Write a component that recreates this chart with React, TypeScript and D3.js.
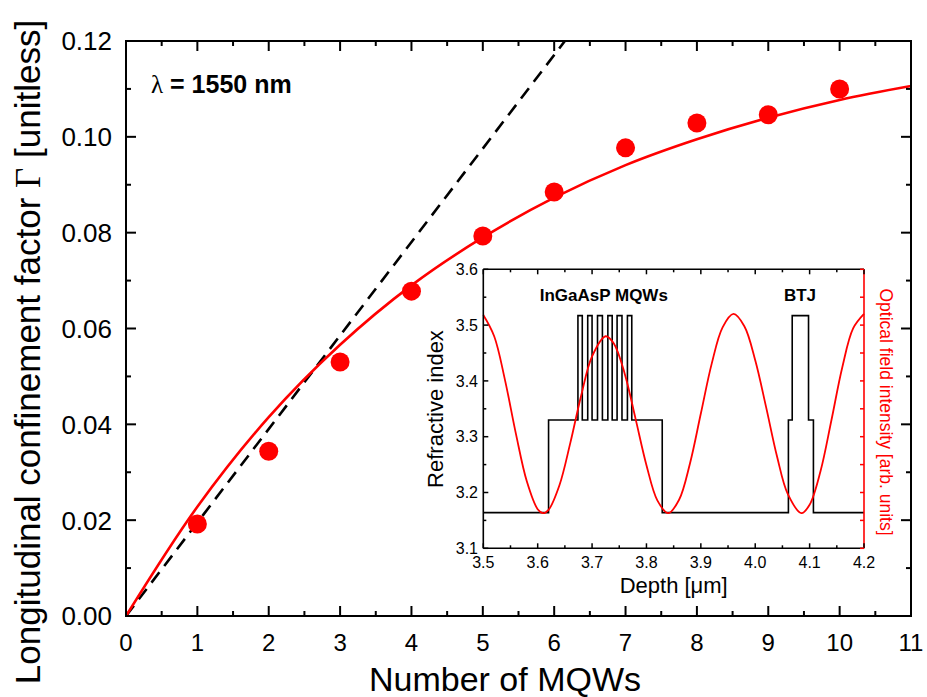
import React from 'react';
import * as d3 from 'd3';

// ---------- Main chart data ----------
const xTickValues = [0, 1, 2, 3, 4, 5, 6, 7, 8, 9, 10, 11];
const yTickValues = [0, 0.02, 0.04, 0.06, 0.08, 0.1, 0.12];
const yTickLabels = ['0.00', '0.02', '0.04', '0.06', '0.08', '0.10', '0.12'];

const mqwCount = [1, 2, 3, 4, 5, 6, 7, 8, 9, 10];
const gammaMeasured = [0.0192, 0.0344, 0.053, 0.0678, 0.0793, 0.0885, 0.0977, 0.1029, 0.1046, 0.11];

const fitN = [0, 1, 2, 3, 4, 5, 6, 7, 8, 9, 10, 11];
const fitGamma = [0, 0.0228, 0.0415, 0.0566, 0.069, 0.079, 0.0873, 0.0941, 0.0995, 0.104, 0.1077, 0.1106];

const linearN = [0, 6.15];
const linearGamma = [0, 0.12];

// ---------- Inset data ----------
const insetXTicks = [3.5, 3.6, 3.7, 3.8, 3.9, 4.0, 4.1, 4.2];
const insetXLabels = ['3.5', '3.6', '3.7', '3.8', '3.9', '4.0', '4.1', '4.2'];
const insetYTicks = [3.1, 3.2, 3.3, 3.4, 3.5, 3.6];
const insetYLabels = ['3.1', '3.2', '3.3', '3.4', '3.5', '3.6'];

const profileEdges = [3.5, 3.62, 3.674, 3.682, 3.692, 3.7, 3.71, 3.719, 3.729, 3.737, 3.746, 3.755, 3.765, 3.773, 3.829, 4.061, 4.068, 4.098, 4.107, 4.2];
const profileIndex = [3.164, 3.33, 3.517, 3.33, 3.517, 3.33, 3.517, 3.33, 3.517, 3.33, 3.517, 3.33, 3.517, 3.33, 3.164, 3.33, 3.517, 3.33, 3.164];

const fieldDepth = [3.5, 3.52, 3.54, 3.56, 3.58, 3.6, 3.61, 3.62, 3.64, 3.66, 3.68, 3.7, 3.725, 3.74, 3.76, 3.78, 3.8, 3.82, 3.84, 3.86, 3.88, 3.9, 3.92, 3.94, 3.96, 3.98, 4.0, 4.02, 4.04, 4.06, 4.085, 4.1, 4.12, 4.14, 4.16, 4.18, 4.2];
const fieldLevel = [3.518, 3.48, 3.401, 3.305, 3.22, 3.17, 3.163, 3.169, 3.213, 3.289, 3.374, 3.444, 3.48, 3.467, 3.413, 3.332, 3.249, 3.186, 3.163, 3.187, 3.252, 3.3415, 3.431, 3.496, 3.52, 3.498, 3.437, 3.353, 3.265, 3.197, 3.163, 3.178, 3.238, 3.329, 3.424, 3.494, 3.52];
const fieldAxisTicks = [0, 1, 2, 3, 4, 5, 6, 7, 8, 9, 10];

const FONT = "'Liberation Sans', Arial, Helvetica, sans-serif";
const RED = '#ff0000';

export default function App() {
  const W = 927, H = 697;
  const L = 126, R = 911, T = 41, B = 616;
  const x = d3.scaleLinear().domain([0, 11]).range([L, R]);
  const y = d3.scaleLinear().domain([0, 0.12]).range([B, T]);

  const xMinor = x.ticks(22).filter(v => Math.abs(v - Math.round(v)) > 1e-6);
  const yMinor = y.ticks(12).filter(v => !yTickValues.some(t => Math.abs(t - v) < 1e-6));

  const fitLine = d3.line<number>().x((_, i) => x(fitN[i])).y(d => y(d)).curve(d3.curveCatmullRom)(fitGamma) || '';
  const dashLine = d3.line<number>().x((_, i) => x(linearN[i])).y(d => y(d))(linearGamma) || '';

  // inset
  const iL = 483.3, iR = 864, iT = 269.3, iB = 548.3;
  const ix = d3.scaleLinear().domain([3.5, 4.2]).range([iL, iR]);
  const iy = d3.scaleLinear().domain([3.1, 3.6]).range([iB, iT]);
  const fy = d3.scaleLinear().domain([0, 10]).range([iB, iT]);
  const ixMinor = d3.range(3.55, 4.2, 0.1);
  const iyMinor = d3.range(3.15, 3.6, 0.1);

  const profPts: [number, number][] = profileIndex.map((v, i) => [profileEdges[i], v]);
  profPts.push([profileEdges[profileEdges.length - 1], profileIndex[profileIndex.length - 1]]);
  const profPath = d3.line<[number, number]>().x(d => ix(d[0])).y(d => iy(d[1])).curve(d3.curveStepAfter)(profPts) || '';
  const fieldPath = d3.line<number>().x((_, i) => ix(fieldDepth[i])).y(d => iy(d)).curve(d3.curveCatmullRom)(fieldLevel) || '';

  return (
    <svg width={W} height={H} style={{ position: 'absolute', left: 0, top: 0, display: 'block', background: '#fff' }} fontFamily={FONT}>
      <defs>
        <clipPath id="mainClip"><rect x={L} y={T} width={R - L} height={B - T} /></clipPath>
      </defs>
      <rect x={0} y={0} width={W} height={H} fill="#fff" />

      {/* curves */}
      <g clipPath="url(#mainClip)">
        <path d={dashLine} fill="none" stroke="#000" strokeWidth={2.6} strokeDasharray="13,8" />
        <path d={fitLine} fill="none" stroke={RED} strokeWidth={2.6} />
      </g>
      {mqwCount.map((n, i) => (
        <circle key={n} cx={x(n)} cy={y(gammaMeasured[i])} r={9.5} fill={RED} />
      ))}

      {/* main axes frame */}
      <rect x={L} y={T} width={R - L} height={B - T} fill="none" stroke="#000" strokeWidth={2} />
      {xTickValues.map(v => (
        <g key={'xt' + v}>
          <line x1={x(v)} x2={x(v)} y1={B} y2={B - 10} stroke="#000" strokeWidth={2} />
          <line x1={x(v)} x2={x(v)} y1={T} y2={T + 10} stroke="#000" strokeWidth={2} />
          <text x={x(v)} y={651} fontSize={24} textAnchor="middle">{v}</text>
        </g>
      ))}
      {xMinor.map(v => (
        <g key={'xm' + v}>
          <line x1={x(v)} x2={x(v)} y1={B} y2={B - 5} stroke="#000" strokeWidth={2} />
          <line x1={x(v)} x2={x(v)} y1={T} y2={T + 5} stroke="#000" strokeWidth={2} />
        </g>
      ))}
      {yTickValues.map((v, i) => (
        <g key={'yt' + v}>
          <line x1={L} x2={L + 10} y1={y(v)} y2={y(v)} stroke="#000" strokeWidth={2} />
          <line x1={R} x2={R - 10} y1={y(v)} y2={y(v)} stroke="#000" strokeWidth={2} />
          <text x={112} y={y(v)} dy="0.36em" fontSize={26} textAnchor="end">{yTickLabels[i]}</text>
        </g>
      ))}
      {yMinor.map(v => (
        <g key={'ym' + v}>
          <line x1={L} x2={L + 5} y1={y(v)} y2={y(v)} stroke="#000" strokeWidth={2} />
          <line x1={R} x2={R - 5} y1={y(v)} y2={y(v)} stroke="#000" strokeWidth={2} />
        </g>
      ))}

      {/* axis titles */}
      <text x={505} y={691} fontSize={34} textAnchor="middle">Number of MQWs</text>
      <text transform="translate(40,352) rotate(-90)" fontSize={35} textAnchor="middle">
        Longitudinal confinement factor <tspan fontFamily="'Liberation Serif', 'Times New Roman', serif">Γ</tspan> [unitless]
      </text>
      <text x={151} y={93} fontSize={25}>
        <tspan fontFamily="'Liberation Serif', 'Times New Roman', serif">λ</tspan>
        <tspan fontWeight="bold"> = 1550 nm</tspan>
      </text>

      {/* inset */}
      <rect x={iL} y={iT} width={iR - iL} height={iB - iT} fill="#fff" />
      <path d={profPath} fill="none" stroke="#000" strokeWidth={1.6} />
      <path d={fieldPath} fill="none" stroke={RED} strokeWidth={1.8} />
      <line x1={iL} x2={iR} y1={iB} y2={iB} stroke="#000" strokeWidth={1.6} />
      <line x1={iL} x2={iR} y1={iT} y2={iT} stroke="#000" strokeWidth={1.6} />
      <line x1={iL} x2={iL} y1={iT} y2={iB} stroke="#000" strokeWidth={1.6} />
      <line x1={iR} x2={iR} y1={iT} y2={iB} stroke={RED} strokeWidth={1.6} />
      {insetXTicks.map((v, i) => (
        <g key={'ixt' + v}>
          <line x1={ix(v)} x2={ix(v)} y1={iB} y2={iB - 5} stroke="#000" strokeWidth={1.5} />
          <line x1={ix(v)} x2={ix(v)} y1={iT} y2={iT + 5} stroke="#000" strokeWidth={1.5} />
          <text x={ix(v)} y={568} fontSize={16} textAnchor="middle">{insetXLabels[i]}</text>
        </g>
      ))}
      {ixMinor.map(v => (
        <g key={'ixm' + v}>
          <line x1={ix(v)} x2={ix(v)} y1={iB} y2={iB - 3} stroke="#000" strokeWidth={1.5} />
          <line x1={ix(v)} x2={ix(v)} y1={iT} y2={iT + 3} stroke="#000" strokeWidth={1.5} />
        </g>
      ))}
      {insetYTicks.map((v, i) => (
        <g key={'iyt' + v}>
          <line x1={iL} x2={iL + 5} y1={iy(v)} y2={iy(v)} stroke="#000" strokeWidth={1.5} />
          <text x={478} y={iy(v)} dy="0.36em" fontSize={16} textAnchor="end">{insetYLabels[i]}</text>
        </g>
      ))}
      {iyMinor.map(v => (
        <line key={'iym' + v} x1={iL} x2={iL + 3} y1={iy(v)} y2={iy(v)} stroke="#000" strokeWidth={1.5} />
      ))}
      {fieldAxisTicks.map(v => (
        <line key={'ft' + v} x1={iR} x2={iR - 4} y1={fy(v)} y2={fy(v)} stroke={RED} strokeWidth={1.5} />
      ))}
      <text x={603.8} y={301} fontSize={17} fontWeight="bold" textAnchor="middle">InGaAsP MQWs</text>
      <text x={800} y={301} fontSize={17} fontWeight="bold" textAnchor="middle">BTJ</text>
      <text x={673.7} y={593} fontSize={22} textAnchor="middle">Depth [μm]</text>
      <text transform="translate(443,409) rotate(-90)" fontSize={22} textAnchor="middle">Refractive index</text>
      <text transform="translate(880,412) rotate(90)" fontSize={17.5} textAnchor="middle" fill={RED}>Optical field intensity [arb. units]</text>
    </svg>
  );
}
